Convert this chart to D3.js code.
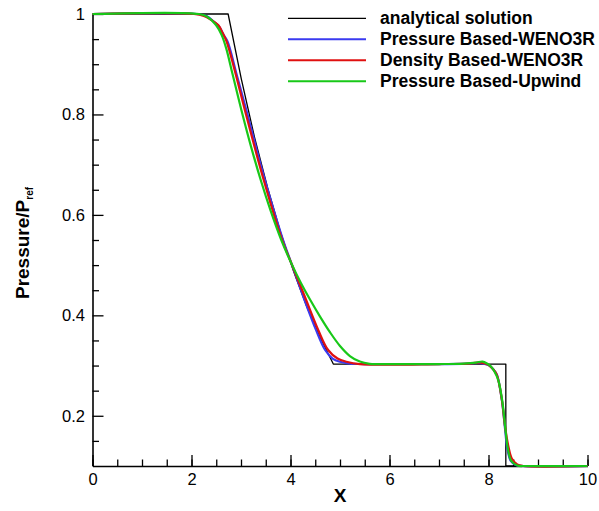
<!DOCTYPE html>
<html>
<head>
<meta charset="utf-8">
<script src="https://cdn.jsdelivr.net/npm/d3@7"></script>
<style>
  body { margin: 0; background: #fff; }
  text { font-family: "Liberation Sans", Arial, Helvetica, sans-serif; }
</style>
</head>
<body>
<div id="chart"></div>
<script>
// series
var anaX = [0, 2.74, 3.006, 3.27, 3.537, 3.80, 4.068, 4.33, 4.599, 4.865, 8.35, 8.35, 10];
var anaP = [1, 1, 0.871, 0.756, 0.654, 0.565, 0.486, 0.417, 0.356, 0.303, 0.303, 0.1, 0.1];

var pbWenoX = [0, 2.1, 2.3, 2.45, 2.56, 2.65, 2.73, 2.9, 3.11, 3.465, 3.84, 4.02, 4.26, 4.515, 4.70, 4.85, 5.0, 5.2, 5.5, 7.0, 7.6, 7.85, 7.96, 8.03, 8.10, 8.17, 8.27, 8.33, 8.38, 8.45, 8.55, 8.7, 10];
var pbWenoP = [1, 1, 0.996, 0.985, 0.975, 0.958, 0.945, 0.884, 0.808, 0.676, 0.553, 0.503, 0.437, 0.371, 0.331, 0.314, 0.3076, 0.304, 0.303, 0.303, 0.304, 0.305, 0.302, 0.299, 0.292, 0.282, 0.231, 0.178, 0.135, 0.11, 0.102, 0.1, 0.1];

var dbWenoX = [0, 2.05, 2.25, 2.4, 2.54, 2.63, 2.71, 2.88, 3.08, 3.44, 3.82, 4.02, 4.29, 4.56, 4.76, 4.95, 5.13, 5.4, 7.0, 7.6, 7.85, 7.96, 8.03, 8.10, 8.17, 8.27, 8.33, 8.4, 8.47, 8.58, 8.7, 10];
var dbWenoP = [1, 1, 0.996, 0.988, 0.978, 0.962, 0.945, 0.885, 0.808, 0.676, 0.553, 0.503, 0.437, 0.371, 0.331, 0.314, 0.3076, 0.303, 0.303, 0.304, 0.306, 0.303, 0.299, 0.292, 0.281, 0.232, 0.182, 0.14, 0.115, 0.103, 0.1, 0.1];

var pbUpX = [0, 2.15, 2.31, 2.495, 2.61, 2.7, 2.83, 3.01, 3.2, 3.4, 3.6, 3.81, 4.02, 4.2, 4.4, 4.6, 4.8, 5.0, 5.2, 5.4, 5.6, 5.8, 7.0, 7.5, 7.75, 7.88, 7.97, 8.05, 8.12, 8.2, 8.28, 8.34, 8.39, 8.46, 8.58, 8.75, 10];
var pbUpP = [1, 1, 0.995, 0.978, 0.958, 0.932, 0.88, 0.808, 0.737, 0.669, 0.608, 0.551, 0.503, 0.4665, 0.4305, 0.397, 0.366, 0.339, 0.319, 0.308, 0.3035, 0.303, 0.303, 0.304, 0.306, 0.308, 0.304, 0.298, 0.288, 0.27, 0.228, 0.175, 0.135, 0.11, 0.101, 0.1, 0.1];

var seriesNames = ["analytical solution", "Pressure Based-WENO3R", "Density Based-WENO3R", "Pressure Based-Upwind"];
var seriesColors = ["#000000", "#3a3af0", "#e01010", "#18c818"];

var xTicks = [0, 2, 4, 6, 8, 10];
var xMinor = d3.range(0, 10.01, 0.5);
var yTicks = [0.2, 0.4, 0.6, 0.8, 1];
var yMinor = [0.15, 0.25, 0.3, 0.35, 0.45, 0.5, 0.55, 0.65, 0.7, 0.75, 0.85, 0.9, 0.95];

var W = 599, H = 511;
var margin = {top: 14, right: 11.5, bottom: 45, left: 92.5};

var svg = d3.select("#chart").append("svg")
    .attr("width", W)
    .attr("height", H);

var x = d3.scaleLinear().domain([0, 10]).range([margin.left, W - margin.right]);
var y = d3.scaleLinear().domain([0.1, 1]).range([H - margin.bottom, margin.top]);

// minor ticks first
svg.append("g")
    .attr("transform", "translate(0," + (H - margin.bottom) + ")")
    .call(d3.axisBottom(x).tickValues(xMinor).tickFormat("").tickSizeInner(-6.5).tickSizeOuter(0))
    .call(g => g.select(".domain").remove())
    .selectAll("line").attr("stroke-width", 1.3);
svg.append("g")
    .attr("transform", "translate(" + margin.left + ",0)")
    .call(d3.axisLeft(y).tickValues(yMinor).tickFormat("").tickSizeInner(-6.5).tickSizeOuter(0))
    .call(g => g.select(".domain").remove())
    .selectAll("line").attr("stroke-width", 1.3);

// major axes
var xAxis = svg.append("g")
    .attr("transform", "translate(0," + (H - margin.bottom) + ")")
    .call(d3.axisBottom(x).tickValues(xTicks).tickSizeInner(-11).tickSizeOuter(0).tickPadding(7));
var yAxis = svg.append("g")
    .attr("transform", "translate(" + margin.left + ",0)")
    .call(d3.axisLeft(y).tickValues(yTicks).tickFormat(d => String(d)).tickSizeInner(-11).tickSizeOuter(0).tickPadding(7.5));

[xAxis, yAxis].forEach(function (g) {
  g.select(".domain").attr("stroke-width", 1.6);
  g.selectAll(".tick line").attr("stroke-width", 1.3);
  g.selectAll("text")
    .style("font-family", "'Liberation Sans', Arial, sans-serif")
    .style("font-size", "16.5px")
    .attr("fill", "#000");
});

// lines
var series = [
  {x: anaX, p: anaP, w: 1.3},
  {x: pbWenoX, p: pbWenoP, w: 2.2},
  {x: dbWenoX, p: dbWenoP, w: 2.2},
  {x: pbUpX, p: pbUpP, w: 2.2}
];

series.forEach(function (s, i) {
  var pts = s.x.map((v, k) => [v, s.p[k]]);
  var line = d3.line()
    .x(d => x(d[0]))
    .y(d => y(d[1]))
    .curve(i === 0 ? d3.curveLinear : d3.curveCatmullRom.alpha(0.5));
  svg.append("path")
    .datum(pts)
    .attr("fill", "none")
    .attr("stroke", seriesColors[i])
    .attr("stroke-width", s.w)
    .attr("stroke-linejoin", "round")
    .attr("d", line);
});

// legend
var legend = svg.append("g");
seriesNames.forEach(function (name, i) {
  var ly = 18.3 + i * 21;
  legend.append("line")
    .attr("x1", 288).attr("x2", 366)
    .attr("y1", ly).attr("y2", ly)
    .attr("stroke", seriesColors[i])
    .attr("stroke-width", i === 0 ? 1.3 : 2);
  legend.append("text")
    .attr("x", 380).attr("y", ly + 6)
    .style("font-size", "17.5px")
    .style("font-weight", "bold")
    .text(name);
});

// axis titles
svg.append("text")
    .attr("x", 340).attr("y", 502)
    .attr("text-anchor", "middle")
    .style("font-size", "19px")
    .style("font-weight", "bold")
    .text("X");

var yt = svg.append("text")
    .attr("transform", "translate(28.5,243) rotate(-90)")
    .attr("text-anchor", "middle")
    .style("font-size", "19px")
    .style("font-weight", "bold");
yt.append("tspan").text("Pressure/P");
yt.append("tspan").attr("dy", 4).style("font-size", "10px").text("ref");
</script>
</body>
</html>
